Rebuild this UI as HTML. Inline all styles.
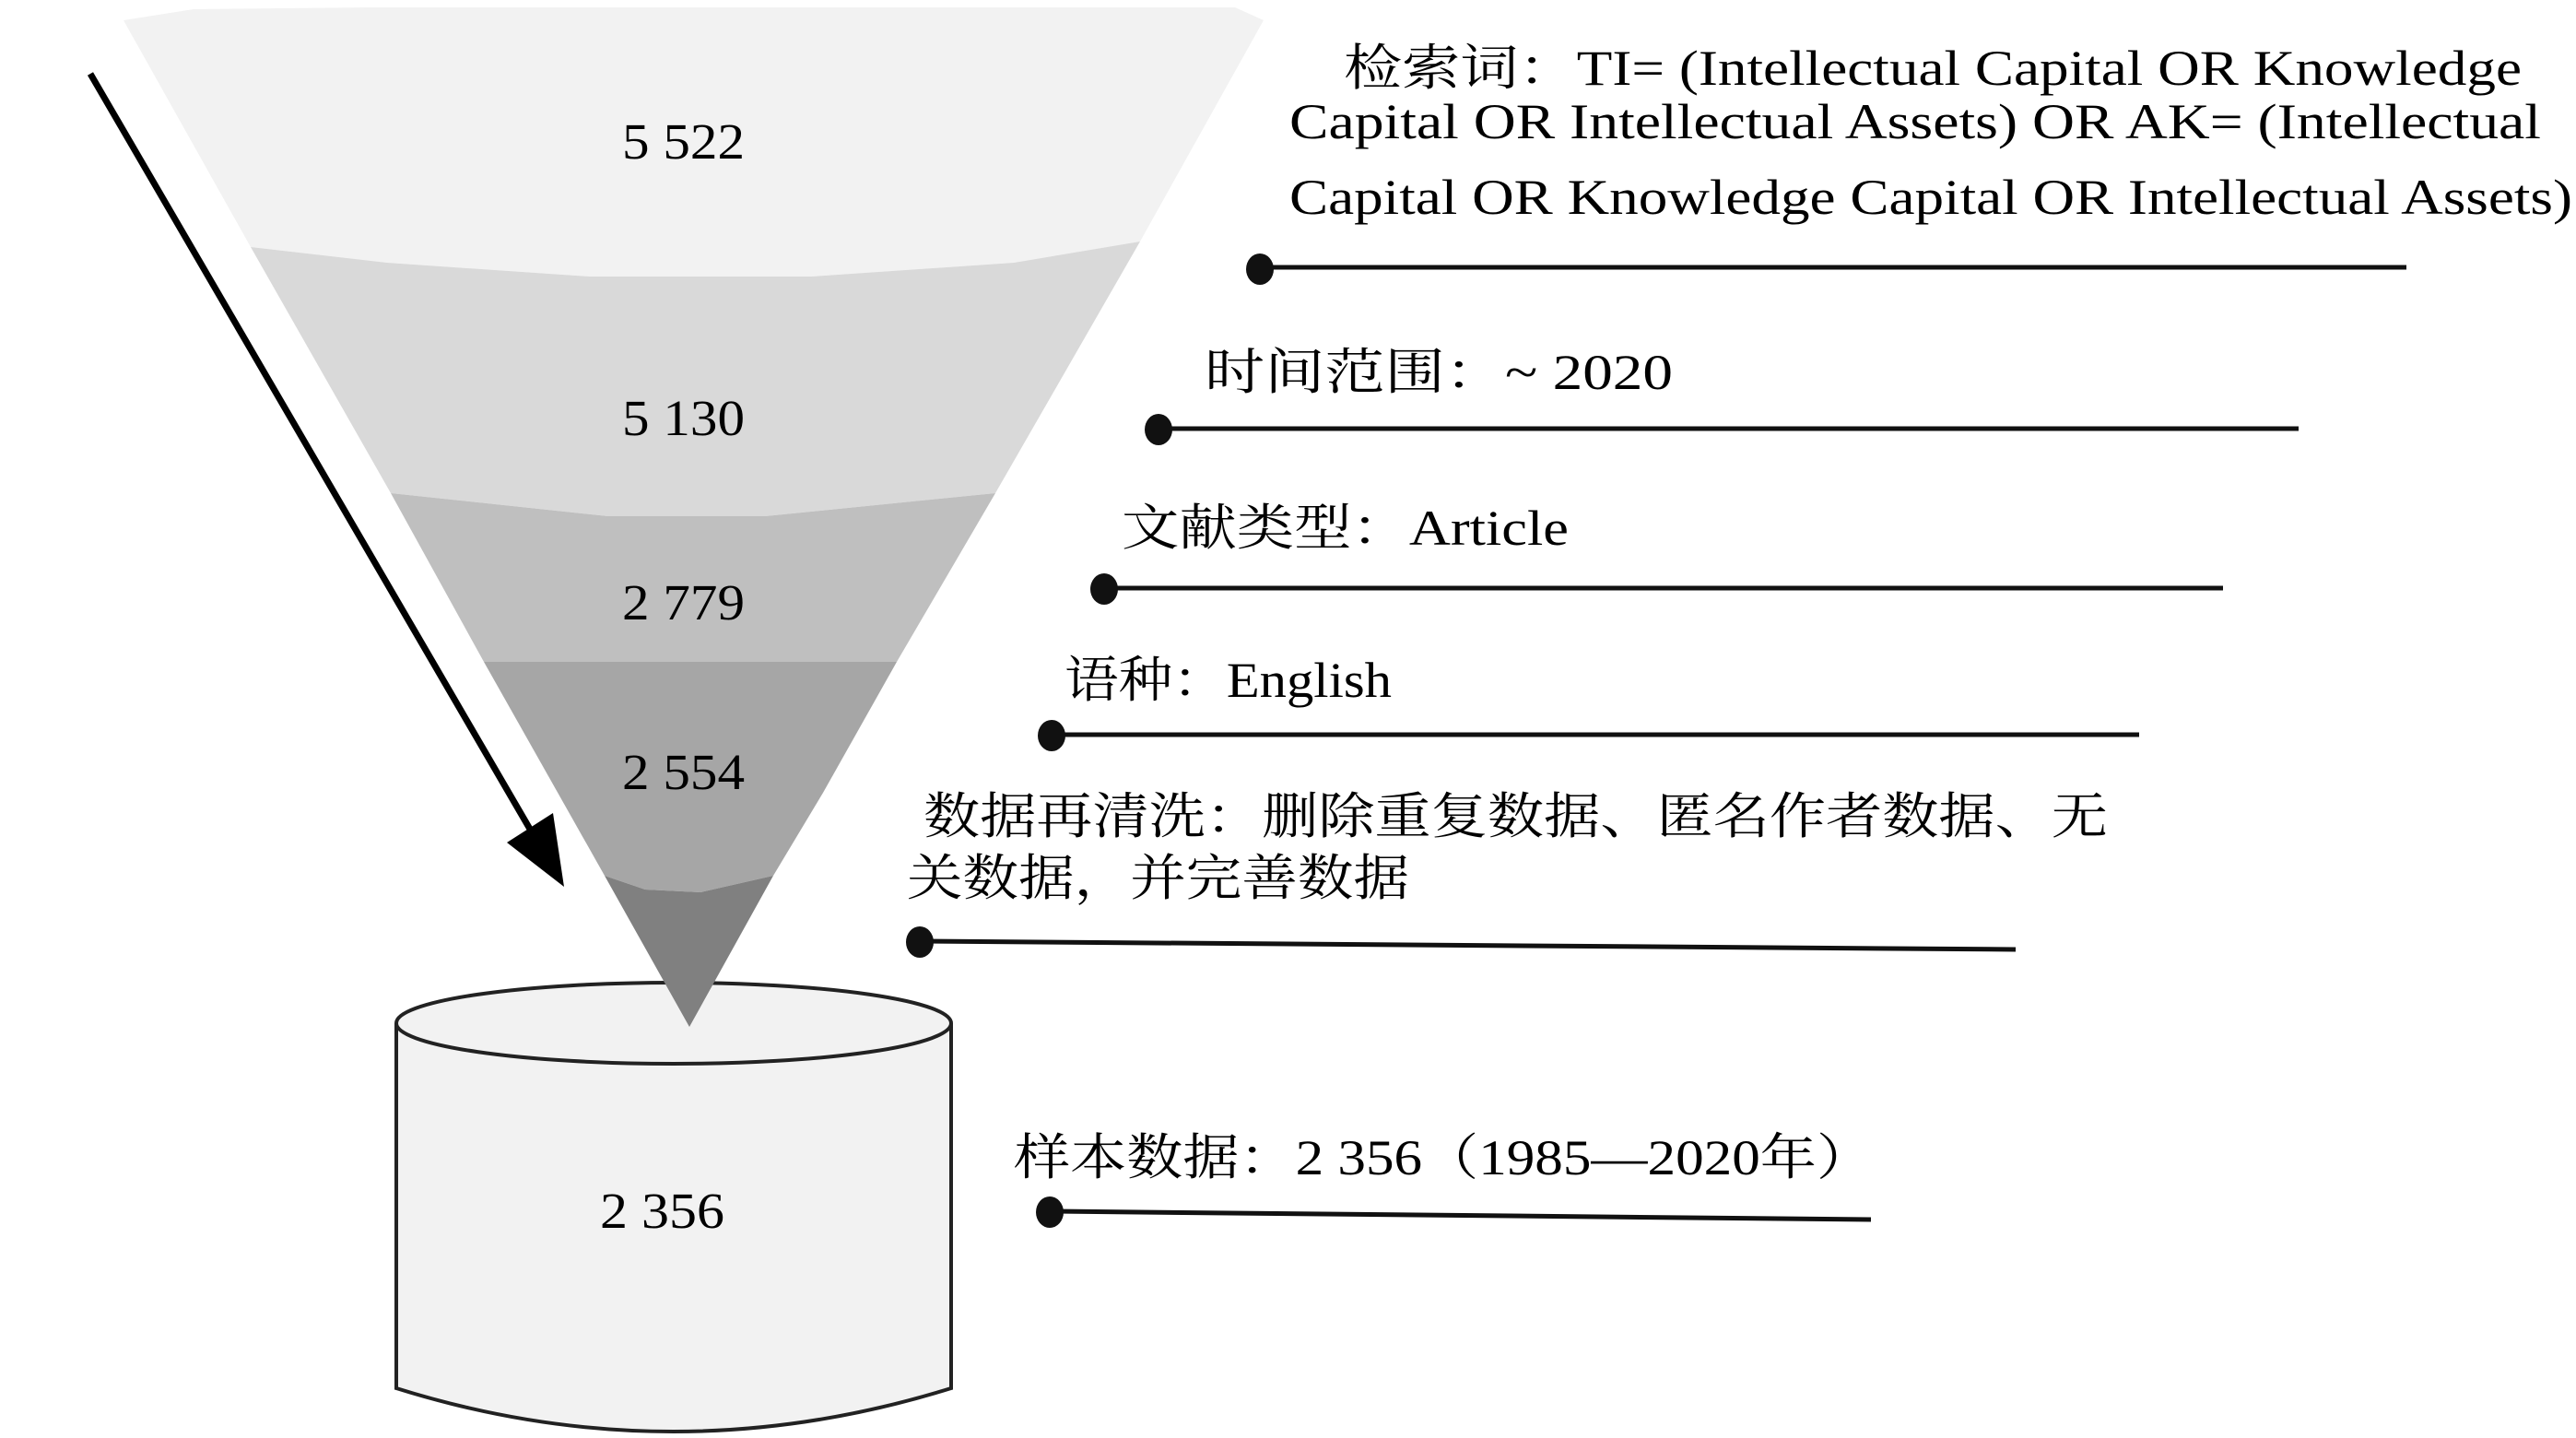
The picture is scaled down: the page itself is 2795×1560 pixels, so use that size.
<!DOCTYPE html>
<html><head><meta charset="utf-8"><style>
html,body{margin:0;padding:0;background:#fff;}
svg{display:block;}
text{font-family:"Liberation Serif","Noto Serif CJK SC",serif;fill:#000;}
</style></head><body>
<svg width="2795" height="1560" viewBox="0 0 2795 1560" xmlns="http://www.w3.org/2000/svg">
<!-- cylinder -->
<path d="M430,1110 L430,1506 Q730,1600 1032,1506 L1032,1110" fill="#f2f2f2" stroke="#222" stroke-width="4"/>
<ellipse cx="731" cy="1110" rx="301" ry="44" fill="#f2f2f2" stroke="#222" stroke-width="4"/>
<!-- funnel bands -->
<polygon points="134,22 210,10 400,8 1340,8 1371,22 1237,262 1100,285 880,300 640,300 420,285 272,268" fill="#f2f2f2"/>
<polygon points="272,268 420,285 640,300 880,300 1100,285 1237,262 1080,535 830,560 660,560 424,535" fill="#d9d9d9"/>
<polygon points="424,535 660,560 830,560 1080,535 973,718 525,718" fill="#bfbfbf"/>
<polygon points="525,718 973,718 893,860 839,950 760,968 700,965 656,950" fill="#a6a6a6"/>
<polygon points="656,950 700,965 760,968 839,950 748,1114" fill="#808080"/>
<!-- arrow -->
<line x1="98" y1="80" x2="580" y2="908" stroke="#000" stroke-width="7"/>
<polygon points="550,914 600,882 612,962" fill="#000"/>
<!-- funnel labels -->
<text x="675" y="172" font-size="55" textLength="133" lengthAdjust="spacingAndGlyphs">5 522</text>
<text x="675" y="472" font-size="55" textLength="133" lengthAdjust="spacingAndGlyphs">5 130</text>
<text x="675" y="672" font-size="55" textLength="133" lengthAdjust="spacingAndGlyphs">2 779</text>
<text x="675" y="856" font-size="55" textLength="133" lengthAdjust="spacingAndGlyphs">2 554</text>
<text x="651" y="1332" font-size="55" textLength="135" lengthAdjust="spacingAndGlyphs">2 356</text>
<!-- right labels -->
<text x="1458" y="92" font-size="54" textLength="1278" lengthAdjust="spacingAndGlyphs">检索词：TI= (Intellectual Capital OR Knowledge</text>
<text x="1399" y="150" font-size="54" textLength="1358" lengthAdjust="spacingAndGlyphs">Capital OR Intellectual Assets) OR AK= (Intellectual</text>
<text x="1399" y="232" font-size="54" textLength="1392" lengthAdjust="spacingAndGlyphs">Capital OR Knowledge Capital OR Intellectual Assets)</text>
<line x1="1367" y1="290" x2="2611" y2="290" stroke="#111" stroke-width="5"/>
<ellipse cx="1367" cy="292" rx="15" ry="17" fill="#111"/>

<text x="1307" y="422" font-size="54" textLength="508" lengthAdjust="spacingAndGlyphs">时间范围：~ 2020</text>
<line x1="1257" y1="465" x2="2494" y2="465" stroke="#111" stroke-width="5"/>
<ellipse cx="1257" cy="466" rx="15" ry="17" fill="#111"/>

<text x="1217" y="591" font-size="54" textLength="485" lengthAdjust="spacingAndGlyphs">文献类型：Article</text>
<line x1="1198" y1="638" x2="2412" y2="638" stroke="#111" stroke-width="5"/>
<ellipse cx="1198" cy="639" rx="15" ry="17" fill="#111"/>

<text x="1155" y="756" font-size="54" textLength="355" lengthAdjust="spacingAndGlyphs">语种：English</text>
<line x1="1141" y1="797" x2="2321" y2="797" stroke="#111" stroke-width="5"/>
<ellipse cx="1141" cy="798" rx="15" ry="17" fill="#111"/>

<text x="1002" y="904" font-size="54" textLength="1285" lengthAdjust="spacingAndGlyphs">数据再清洗：删除重复数据、匿名作者数据、无</text>
<text x="984" y="971" font-size="54" textLength="545" lengthAdjust="spacingAndGlyphs">关数据，并完善数据</text>
<line x1="998" y1="1021" x2="2187" y2="1030" stroke="#111" stroke-width="5"/>
<ellipse cx="998" cy="1022" rx="15" ry="17" fill="#111"/>

<text x="1100" y="1274" font-size="54" textLength="932" lengthAdjust="spacingAndGlyphs">样本数据：2 356（1985—2020年）</text>
<line x1="1139" y1="1314" x2="2030" y2="1323" stroke="#111" stroke-width="5"/>
<ellipse cx="1139" cy="1315" rx="15" ry="17" fill="#111"/>
</svg>
</body></html>
